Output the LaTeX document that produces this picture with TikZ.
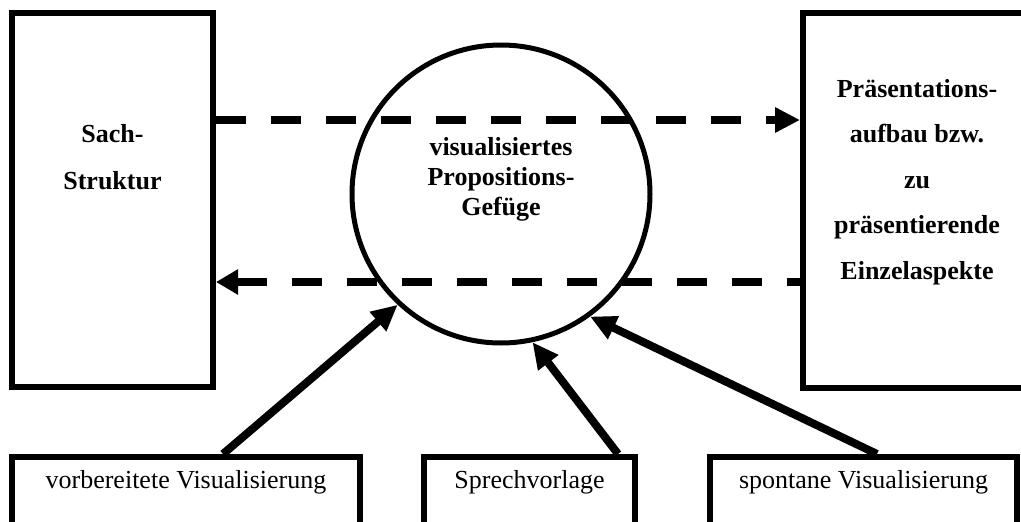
\documentclass[tikz,border=0pt]{standalone}
\usepackage{fontspec}
\setmainfont{Liberation Serif}
\usetikzlibrary{arrows.meta}
\begin{document}
\begin{tikzpicture}[x=1pt,y=-1pt,
  box/.style={draw, line width=6pt, inner sep=0pt},
  boldtext/.style={align=center, inner sep=0pt},
  dashbase/.style={line width=8pt, dash pattern=on 30pt off 25pt},
  solidarrow/.style={line width=8pt, -{Triangle[length=26pt,width=24pt]}},
  lowbox/.style={draw, line width=6pt, minimum height=100pt, text height=18pt, text depth=56pt, inner sep=0pt, font=\fontsize{26}{30}\selectfont}
]
\useasboundingbox (0,0) rectangle (1021,522);
\fill[white] (0,0) rectangle (1021,522);
\clip (0,0) rectangle (1021,522);
% big boxes
\node[box, minimum width=201pt, minimum height=374pt] (lbox) at (112.5,200) {};
\node[box, minimum width=228pt, minimum height=375pt] (rbox) at (917,200.5) {};
% circle
\node[circle, draw, line width=5pt, minimum size=298pt, inner sep=0pt] (circ) at (501,194) {};
% texts
\node[boldtext, font=\fontsize{26}{47}\selectfont\bfseries] (ltext) at (112.5,156.8) {Sach-\\Struktur};
\node[boldtext, font=\fontsize{26}{45.5}\selectfont\bfseries] (rtext) at (917,182) {Präsentations-\\aufbau bzw.\\zu\\präsentierende\\Einzelaspekte};
\node[boldtext, font=\fontsize{26}{30}\selectfont\bfseries] (ctext) at (501,179) {visualisiertes\\Propositions-\\Gefüge};
% bottom boxes
\node[lowbox, minimum width=348pt] (vb) at (186,507) {vorbereitete Visualisierung};
\node[lowbox, minimum width=211pt] (sv) at (529.5,507) {Sprechvorlage};
\node[lowbox, minimum width=307pt] (sp) at (863.5,507) {spontane Visualisierung};
% dashed arrows
\draw[dashbase, -{Triangle[length=25pt,width=24pt]}] ([yshift=80pt]lbox.east) -- ([yshift=80.5pt]rbox.west);
\draw[dashbase, {Triangle[length=22pt,width=24pt]}-] ([yshift=-82pt]lbox.east) -- ([yshift=-81.5pt]rbox.west);
% solid arrows
\draw[solidarrow] ([xshift=37pt]vb.north) -- (circ.227);
\draw[solidarrow] ([xshift=88.5pt]sv.north) -- (circ.282);
\draw[solidarrow] ([xshift=13.5pt]sp.north) -- (circ.306);
\end{tikzpicture}
\end{document}
